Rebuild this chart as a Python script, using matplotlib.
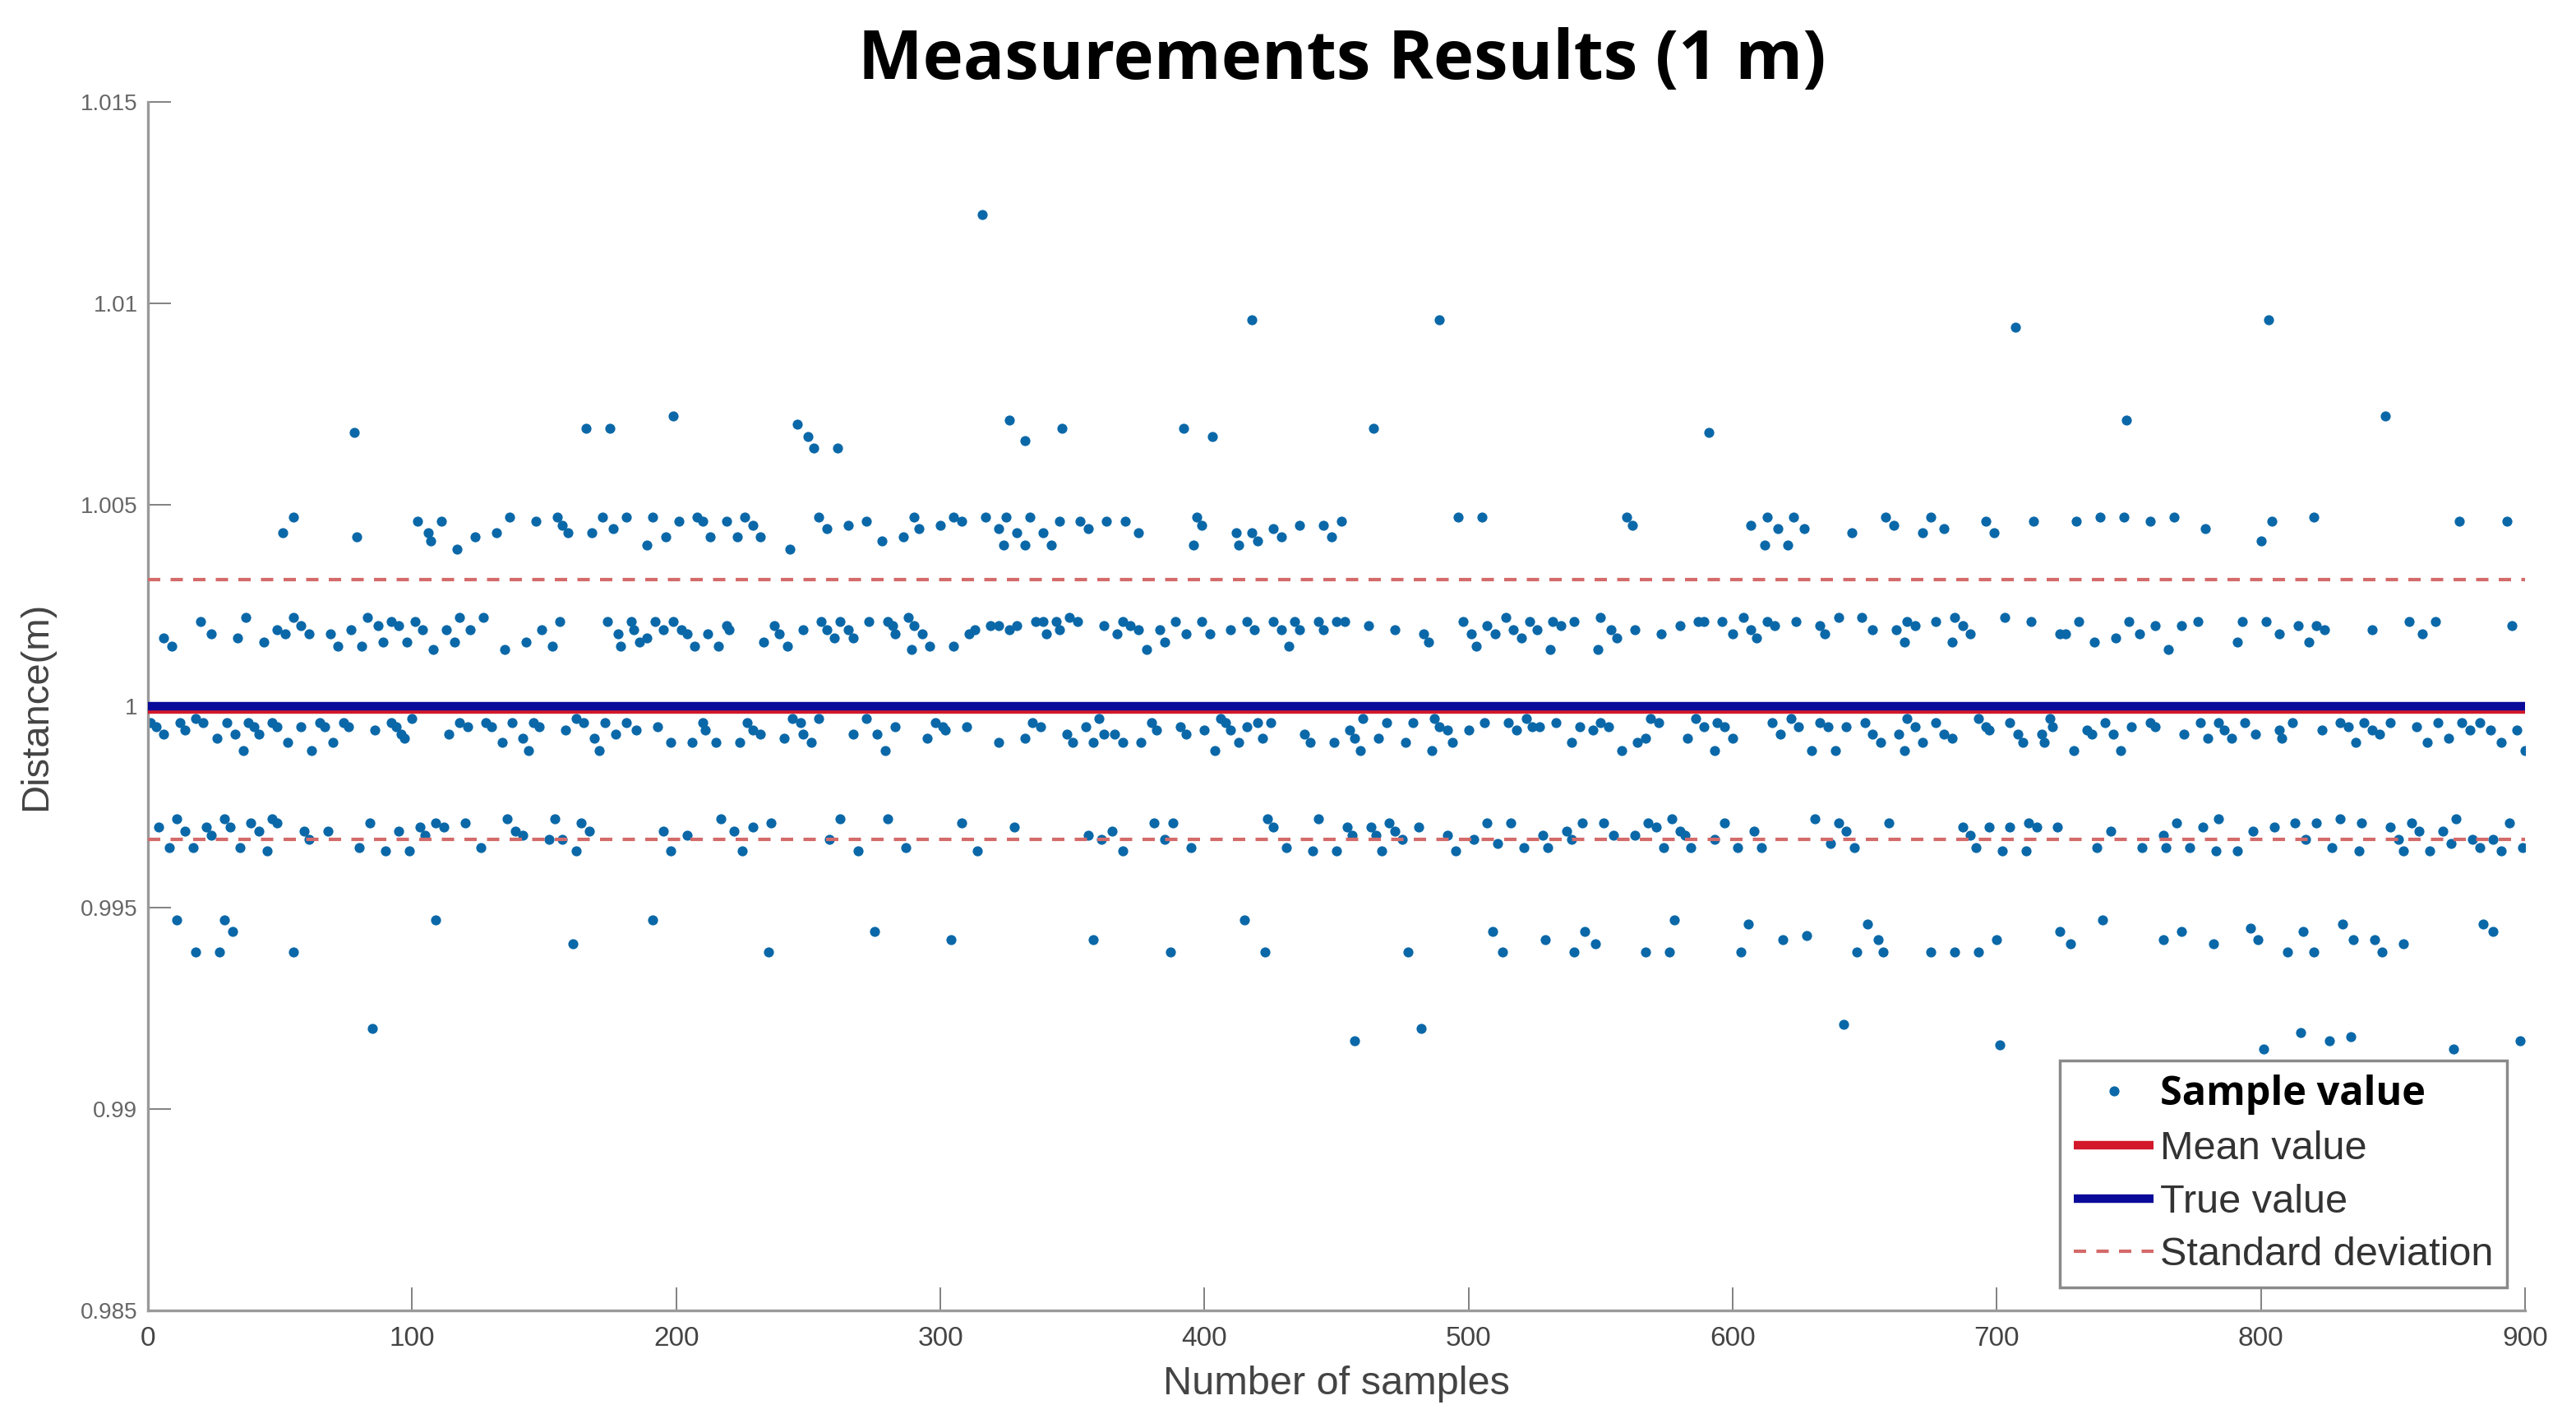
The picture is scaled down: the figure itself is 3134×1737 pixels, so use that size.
import matplotlib
matplotlib.use("Agg")
import matplotlib.pyplot as plt
import numpy as np

# ---------------- data ----------------
title_text = "Measurements Results (1 m)"
x_label = "Number of samples"
y_label = "Distance(m)"
x_ticks = [0, 100, 200, 300, 400, 500, 600, 700, 800, 900]
y_ticks = [0.985, 0.99, 0.995, 1.0, 1.005, 1.01, 1.015]
y_tick_labels = ["0.985", "0.99", "0.995", "1", "1.005", "1.01", "1.015"]

true_value = 1.0
mean_value = 0.99991
std_value = 0.003225

high_x = [78, 166, 175, 316, 199, 246, 250, 252, 261, 326, 332, 346, 418, 489, 392, 403, 464, 707, 591, 803, 749, 847]
high_y = [1.0068, 1.0069, 1.0069, 1.0122, 1.0072, 1.0070, 1.0067, 1.0064, 1.0064, 1.0071, 1.0066, 1.0069,
          1.0096, 1.0096, 1.0069, 1.0067, 1.0069, 1.0094, 1.0068, 1.0096, 1.0071, 1.0072]

low_x = [85, 457, 482, 642, 701, 801, 815, 826, 834, 873, 898]
low_y = [0.9920, 0.9917, 0.9920, 0.9921, 0.9916, 0.9915, 0.9919, 0.9917, 0.9918, 0.9915, 0.9917]

bandA_x = [51, 55, 79, 102, 106, 107, 111, 117, 124, 132, 137, 147, 155, 157, 159, 168, 172, 176, 181,
           189, 191, 196, 201, 208, 210, 213, 219, 223, 226, 229, 232, 243, 254, 257, 265, 272, 278, 286, 290, 292,
           300, 305, 308, 317, 322, 324, 325, 329, 332, 334, 339, 342, 345, 353, 356, 363,
           370, 375, 396, 397, 399, 412, 413, 418, 420, 426, 429, 436, 445, 448, 452, 496, 505,
           560, 562, 607, 612, 613, 617, 621, 623, 627, 645, 658, 661, 672, 675, 680, 696, 699, 714,
           730, 739, 748, 758, 767, 779, 800, 804, 820, 875, 893]
bandA_y = [1.0043, 1.0047, 1.0042, 1.0046, 1.0043, 1.0041, 1.0046, 1.0039, 1.0042, 1.0043, 1.0047, 1.0046, 1.0047, 1.0045, 1.0043, 1.0043, 1.0047, 1.0044, 1.0047,
           1.0040, 1.0047, 1.0042, 1.0046, 1.0047, 1.0046, 1.0042, 1.0046, 1.0042, 1.0047, 1.0045, 1.0042, 1.0039, 1.0047, 1.0044, 1.0045, 1.0046, 1.0041, 1.0042, 1.0047, 1.0044,
           1.0045, 1.0047, 1.0046, 1.0047, 1.0044, 1.0040, 1.0047, 1.0043, 1.0040, 1.0047, 1.0043, 1.0040, 1.0046, 1.0046, 1.0044, 1.0046,
           1.0046, 1.0043, 1.0040, 1.0047, 1.0045, 1.0043, 1.0040, 1.0043, 1.0041, 1.0044, 1.0042, 1.0045, 1.0045, 1.0042, 1.0046, 1.0047, 1.0047,
           1.0047, 1.0045, 1.0045, 1.0040, 1.0047, 1.0044, 1.0040, 1.0047, 1.0044, 1.0043, 1.0047, 1.0045, 1.0043, 1.0047, 1.0044, 1.0046, 1.0043, 1.0046,
           1.0046, 1.0047, 1.0047, 1.0046, 1.0047, 1.0044, 1.0041, 1.0046, 1.0047, 1.0046, 1.0046]

bandB_x = [6, 9, 20, 24, 34, 37, 44, 49, 52, 55, 58, 61, 69, 72, 77, 81, 83, 87, 89, 92, 95, 98, 101, 104, 108, 113, 116, 118, 122, 127, 135, 143, 149, 153, 156, 174, 178, 179, 183,
           184, 186, 189, 192, 195, 199, 202, 204, 207, 212, 216, 219, 220, 233, 237, 239, 242, 248, 255, 257, 260, 262, 265, 267, 273, 280, 282, 283, 288, 290, 289, 293, 296,
           305, 311, 313, 319, 322, 326, 329, 336, 339, 340, 344, 345, 349, 352, 362,
           367, 369, 372, 375, 378, 383, 385, 389, 393, 399, 402, 410, 416, 419, 426, 429, 432, 434, 436, 443, 445, 450, 453, 462, 472, 483, 485, 498, 501, 503, 507, 510, 514, 517, 520, 523, 526, 531, 532, 535, 540,
           549, 550, 554, 556, 563, 573, 580, 587, 589, 596, 600, 604, 607, 609, 613, 616, 624, 633, 635, 640, 649, 653, 662, 665, 666, 669, 677, 683, 684, 687, 690, 703, 713, 724,
           726, 731, 737, 745, 750, 754, 760, 765, 770, 776, 791, 793, 802, 807, 814, 818, 821, 824, 842, 856, 861, 866, 895]
bandB_y = [1.0017, 1.0015, 1.0021, 1.0018, 1.0017, 1.0022, 1.0016, 1.0019, 1.0018, 1.0022, 1.0020, 1.0018, 1.0018, 1.0015, 1.0019, 1.0015, 1.0022, 1.0020, 1.0016, 1.0021, 1.0020, 1.0016, 1.0021, 1.0019, 1.0014, 1.0019, 1.0016, 1.0022, 1.0019, 1.0022, 1.0014, 1.0016, 1.0019, 1.0015, 1.0021, 1.0021, 1.0018, 1.0015, 1.0021,
           1.0019, 1.0016, 1.0017, 1.0021, 1.0019, 1.0021, 1.0019, 1.0018, 1.0015, 1.0018, 1.0015, 1.0020, 1.0019, 1.0016, 1.0020, 1.0018, 1.0015, 1.0019, 1.0021, 1.0019, 1.0017, 1.0021, 1.0019, 1.0017, 1.0021, 1.0021, 1.0020, 1.0018, 1.0022, 1.0020, 1.0014, 1.0018, 1.0015,
           1.0015, 1.0018, 1.0019, 1.0020, 1.0020, 1.0019, 1.0020, 1.0021, 1.0021, 1.0018, 1.0021, 1.0019, 1.0022, 1.0021, 1.0020,
           1.0018, 1.0021, 1.0020, 1.0019, 1.0014, 1.0019, 1.0016, 1.0021, 1.0018, 1.0021, 1.0018, 1.0019, 1.0021, 1.0019, 1.0021, 1.0019, 1.0015, 1.0021, 1.0019, 1.0021, 1.0019, 1.0021, 1.0021, 1.0020, 1.0019, 1.0018, 1.0016, 1.0021, 1.0018, 1.0015, 1.0020, 1.0018, 1.0022, 1.0019, 1.0017, 1.0021, 1.0019, 1.0014, 1.0021, 1.0020, 1.0021,
           1.0014, 1.0022, 1.0019, 1.0017, 1.0019, 1.0018, 1.0020, 1.0021, 1.0021, 1.0021, 1.0018, 1.0022, 1.0019, 1.0017, 1.0021, 1.0020, 1.0021, 1.0020, 1.0018, 1.0022, 1.0022, 1.0019, 1.0019, 1.0016, 1.0021, 1.0020, 1.0021, 1.0016, 1.0022, 1.0020, 1.0018, 1.0022, 1.0021, 1.0018,
           1.0018, 1.0021, 1.0016, 1.0017, 1.0021, 1.0018, 1.0020, 1.0014, 1.0020, 1.0021, 1.0016, 1.0021, 1.0021, 1.0018, 1.0020, 1.0016, 1.0020, 1.0019, 1.0019, 1.0021, 1.0018, 1.0021, 1.0020]

bandC_x = [1, 3, 6, 12, 14, 18, 21, 26, 30, 33, 36, 38, 40, 42, 47, 49, 53, 58, 62, 65, 67, 70, 74, 76, 86, 92, 94, 96, 97, 100, 114, 118, 121, 128, 130, 134, 138, 142, 144, 146, 148, 158, 162, 165, 169, 171, 173, 177, 181,
           185, 193, 198, 206, 210, 211, 215, 224, 227, 229, 232, 241, 244, 247, 248, 251, 254, 267, 272, 276, 279, 283, 295, 298, 301, 302, 310, 322, 332, 335, 338, 348, 350, 355, 358, 360, 362,
           366, 369, 376, 380, 382, 391, 393, 400, 404, 406, 408, 410, 413, 416, 420, 422, 425, 438, 440, 449, 455, 457, 459, 460, 466, 469, 476, 479, 486, 487, 489, 492, 494, 500, 506, 515, 518, 522, 524, 527, 533, 539, 542,
           547, 550, 553, 558, 564, 567, 569, 572, 583, 586, 589, 593, 594, 597, 600, 615, 618, 622, 625, 630, 633, 636, 639, 643, 650, 653, 656, 663, 666, 665, 669, 672, 677, 680, 683, 693, 696, 697, 705, 708, 710, 717, 718, 720, 721,
           729, 734, 736, 741, 744, 747, 751, 758, 760, 771, 777, 780, 784, 786, 789, 794, 798, 807, 808, 812, 823, 830, 833, 836, 839, 842, 845, 849, 859, 863, 867, 871, 876, 879, 883, 887, 891, 897, 900]
bandC_y = [0.9996, 0.9995, 0.9993, 0.9996, 0.9994, 0.9997, 0.9996, 0.9992, 0.9996, 0.9993, 0.9989, 0.9996, 0.9995, 0.9993, 0.9996, 0.9995, 0.9991, 0.9995, 0.9989, 0.9996, 0.9995, 0.9991, 0.9996, 0.9995, 0.9994, 0.9996, 0.9995, 0.9993, 0.9992, 0.9997, 0.9993, 0.9996, 0.9995, 0.9996, 0.9995, 0.9991, 0.9996, 0.9992, 0.9989, 0.9996, 0.9995, 0.9994, 0.9997, 0.9996, 0.9992, 0.9989, 0.9996, 0.9993, 0.9996,
           0.9994, 0.9995, 0.9991, 0.9991, 0.9996, 0.9994, 0.9991, 0.9991, 0.9996, 0.9994, 0.9993, 0.9992, 0.9997, 0.9996, 0.9993, 0.9991, 0.9997, 0.9993, 0.9997, 0.9993, 0.9989, 0.9995, 0.9992, 0.9996, 0.9995, 0.9994, 0.9995, 0.9991, 0.9992, 0.9996, 0.9995, 0.9993, 0.9991, 0.9995, 0.9991, 0.9997, 0.9993,
           0.9993, 0.9991, 0.9991, 0.9996, 0.9994, 0.9995, 0.9993, 0.9994, 0.9989, 0.9997, 0.9996, 0.9994, 0.9991, 0.9995, 0.9996, 0.9992, 0.9996, 0.9993, 0.9991, 0.9991, 0.9994, 0.9992, 0.9989, 0.9997, 0.9992, 0.9996, 0.9991, 0.9996, 0.9989, 0.9997, 0.9995, 0.9994, 0.9991, 0.9994, 0.9996, 0.9996, 0.9994, 0.9997, 0.9995, 0.9995, 0.9996, 0.9991, 0.9995,
           0.9994, 0.9996, 0.9995, 0.9989, 0.9991, 0.9992, 0.9997, 0.9996, 0.9992, 0.9997, 0.9995, 0.9989, 0.9996, 0.9995, 0.9992, 0.9996, 0.9993, 0.9997, 0.9995, 0.9989, 0.9996, 0.9995, 0.9989, 0.9995, 0.9996, 0.9993, 0.9991, 0.9993, 0.9997, 0.9989, 0.9995, 0.9991, 0.9996, 0.9993, 0.9992, 0.9997, 0.9995, 0.9994, 0.9996, 0.9993, 0.9991, 0.9993, 0.9991, 0.9997, 0.9995,
           0.9989, 0.9994, 0.9993, 0.9996, 0.9993, 0.9989, 0.9995, 0.9996, 0.9995, 0.9993, 0.9996, 0.9992, 0.9996, 0.9994, 0.9992, 0.9996, 0.9993, 0.9994, 0.9992, 0.9996, 0.9994, 0.9996, 0.9995, 0.9991, 0.9996, 0.9994, 0.9993, 0.9996, 0.9995, 0.9991, 0.9996, 0.9992, 0.9996, 0.9994, 0.9996, 0.9994, 0.9991, 0.9994, 0.9989]

bandD_x = [4, 8, 11, 14, 17, 22, 24, 29, 31, 35, 39, 42, 45, 47, 49, 59, 61, 68, 80, 84, 90, 95, 99, 103, 105, 109, 112, 120, 126, 136, 139, 142, 152, 154, 157, 162, 164, 167,
           195, 198, 204, 217, 222, 225, 229, 236, 258, 262, 269, 280, 287, 308, 314, 328, 356, 361,
           365, 369, 381, 385, 388, 395, 424, 426, 431, 441, 443, 450, 454, 456, 463, 465, 467, 470, 472, 475, 481, 492, 495, 502, 507, 511, 516, 521, 528, 530, 537, 539, 543,
           551, 555, 563, 568, 571, 574, 577, 580, 582, 584, 593, 597, 602, 608, 611, 631, 637, 640, 643, 646, 659, 687, 690, 692, 697, 702, 705, 711, 712, 715, 723,
           738, 743, 755, 763, 764, 768, 773, 778, 784, 783, 791, 797, 805, 813, 817, 821, 827, 830, 837, 838, 849, 852, 854, 857, 860, 864, 869, 872, 874, 880, 883, 888, 891, 894, 899]
bandD_y = [0.9970, 0.9965, 0.9972, 0.9969, 0.9965, 0.9970, 0.9968, 0.9972, 0.9970, 0.9965, 0.9971, 0.9969, 0.9964, 0.9972, 0.9971, 0.9969, 0.9967, 0.9969, 0.9965, 0.9971, 0.9964, 0.9969, 0.9964, 0.9970, 0.9968, 0.9971, 0.9970, 0.9971, 0.9965, 0.9972, 0.9969, 0.9968, 0.9967, 0.9972, 0.9967, 0.9964, 0.9971, 0.9969,
           0.9969, 0.9964, 0.9968, 0.9972, 0.9969, 0.9964, 0.9970, 0.9971, 0.9967, 0.9972, 0.9964, 0.9972, 0.9965, 0.9971, 0.9964, 0.9970, 0.9968, 0.9967,
           0.9969, 0.9964, 0.9971, 0.9967, 0.9971, 0.9965, 0.9972, 0.9970, 0.9965, 0.9964, 0.9972, 0.9964, 0.9970, 0.9968, 0.9970, 0.9968, 0.9964, 0.9971, 0.9969, 0.9967, 0.9970, 0.9968, 0.9964, 0.9967, 0.9971, 0.9966, 0.9971, 0.9965, 0.9968, 0.9965, 0.9969, 0.9967, 0.9971,
           0.9971, 0.9968, 0.9968, 0.9971, 0.9970, 0.9965, 0.9972, 0.9969, 0.9968, 0.9965, 0.9967, 0.9971, 0.9965, 0.9969, 0.9965, 0.9972, 0.9966, 0.9971, 0.9969, 0.9965, 0.9971, 0.9970, 0.9968, 0.9965, 0.9970, 0.9964, 0.9970, 0.9964, 0.9971, 0.9970, 0.9970,
           0.9965, 0.9969, 0.9965, 0.9968, 0.9965, 0.9971, 0.9965, 0.9970, 0.9972, 0.9964, 0.9964, 0.9969, 0.9970, 0.9971, 0.9967, 0.9971, 0.9965, 0.9972, 0.9964, 0.9971, 0.9970, 0.9967, 0.9964, 0.9971, 0.9969, 0.9964, 0.9969, 0.9966, 0.9972, 0.9967, 0.9965, 0.9967, 0.9964, 0.9971, 0.9965]

bandE_x = [11, 18, 27, 29, 32, 55, 109, 161,
           191, 235, 275, 304, 358,
           387, 415, 423, 477, 509, 513, 529, 540, 544,
           548, 567, 576, 578, 603, 606, 619, 628, 647, 651, 655, 657, 675, 684, 693, 700, 724,
           728, 740, 763, 770, 782, 796, 799, 810, 816, 820, 831, 835, 843, 846, 854, 884, 888]
bandE_y = [0.9947, 0.9939, 0.9939, 0.9947, 0.9944, 0.9939, 0.9947, 0.9941,
           0.9947, 0.9939, 0.9944, 0.9942, 0.9942,
           0.9939, 0.9947, 0.9939, 0.9939, 0.9944, 0.9939, 0.9942, 0.9939, 0.9944,
           0.9941, 0.9939, 0.9939, 0.9947, 0.9939, 0.9946, 0.9942, 0.9943, 0.9939, 0.9946, 0.9942, 0.9939, 0.9939, 0.9939, 0.9939, 0.9942, 0.9944,
           0.9941, 0.9947, 0.9942, 0.9944, 0.9941, 0.9945, 0.9942, 0.9939, 0.9944, 0.9939, 0.9946, 0.9942, 0.9942, 0.9939, 0.9941, 0.9946, 0.9944]

# ---------------- styles ----------------
dot_color = "#0b68a8"
mean_color = "#d2182a"
true_color = "#0a0a9a"
std_color = "#d46a6a"
axis_gray = "#9a9a9a"
text_gray = "#444444"

samples_x = np.array(high_x + low_x + bandA_x + bandB_x + bandC_x + bandD_x + bandE_x, dtype=float)
samples_y = np.array(high_y + low_y + bandA_y + bandB_y + bandC_y + bandD_y + bandE_y, dtype=float)

W, H = 3134, 1737
fig = plt.figure(figsize=(W / 100, H / 100), dpi=100)
ax = fig.add_axes([180 / W, 1 - 1594 / H, 2892 / W, 1470 / H])

ax.plot(samples_x, samples_y, linestyle="none", marker="o", markersize=8.8,
        markerfacecolor=dot_color, markeredgecolor="none", zorder=2, label="Sample value")
x_span = [x_ticks[0], x_ticks[-1]]
ax.plot(x_span, [mean_value, mean_value], color=mean_color, lw=7.5, zorder=3,
        solid_capstyle="butt", label="Mean value")
ax.plot(x_span, [true_value, true_value], color=true_color, lw=7.5, zorder=4,
        solid_capstyle="butt", label="True value")
ax.plot(x_span, [mean_value + std_value] * 2, color=std_color, lw=3,
        linestyle=(0, (3.6, 3.0)), zorder=3, label="Standard deviation")
ax.plot(x_span, [mean_value - std_value] * 2, color=std_color, lw=3,
        linestyle=(0, (3.6, 3.0)), zorder=3)

ax.set_xlim(0, 900)
ax.set_ylim(0.985, 1.015)
ax.set_xticks(x_ticks)
ax.set_xticklabels([str(t) for t in x_ticks], fontsize=24, color=text_gray,
                   fontfamily="Liberation Sans")
ax.set_yticks(y_ticks)
ax.set_yticklabels(y_tick_labels, fontsize=20, color="#666666", fontfamily="Liberation Sans")
ax.tick_params(axis="both", direction="in", length=20, width=1.3, color="#777777")
ax.tick_params(axis="x", pad=14)
ax.tick_params(axis="y", pad=9)

for side in ["top", "right"]:
    ax.spines[side].set_visible(False)
for side in ["left", "bottom"]:
    ax.spines[side].set_color(axis_gray)
    ax.spines[side].set_linewidth(2.4)

ax.set_xlabel(x_label, fontsize=35, color=text_gray, fontfamily="Liberation Sans")
ax.xaxis.set_label_coords(0.5, -0.061)
ax.xaxis.label.set_va("center")
ax.set_ylabel(y_label, fontsize=34, color=text_gray, fontfamily="Liberation Sans")
ax.yaxis.set_label_coords(-0.047, 0.5)
ax.yaxis.label.set_va("center")

fig.text(0.521, 0.957, title_text, ha="center", va="center", fontsize=60,
         fontweight="bold", fontfamily="Open Sans", color="black")

leg = ax.legend(loc="lower right", bbox_to_anchor=(0.9924, 0.019), borderaxespad=0,
                prop={"family": "Liberation Sans", "size": 35}, frameon=True, fancybox=False,
                edgecolor="#8a8a8a", framealpha=1, handlelength=2.0, handletextpad=0.15,
                labelspacing=0.4, borderpad=0.35, markerscale=1.0)
leg.get_frame().set_linewidth(2.5)
for i, t in enumerate(leg.get_texts()):
    if i == 0:
        t.set_fontweight("bold")
        t.set_fontfamily("Open Sans")
        t.set_color("black")
    else:
        t.set_color("#333333")

fig.savefig("out.png", dpi=100, facecolor="white")
